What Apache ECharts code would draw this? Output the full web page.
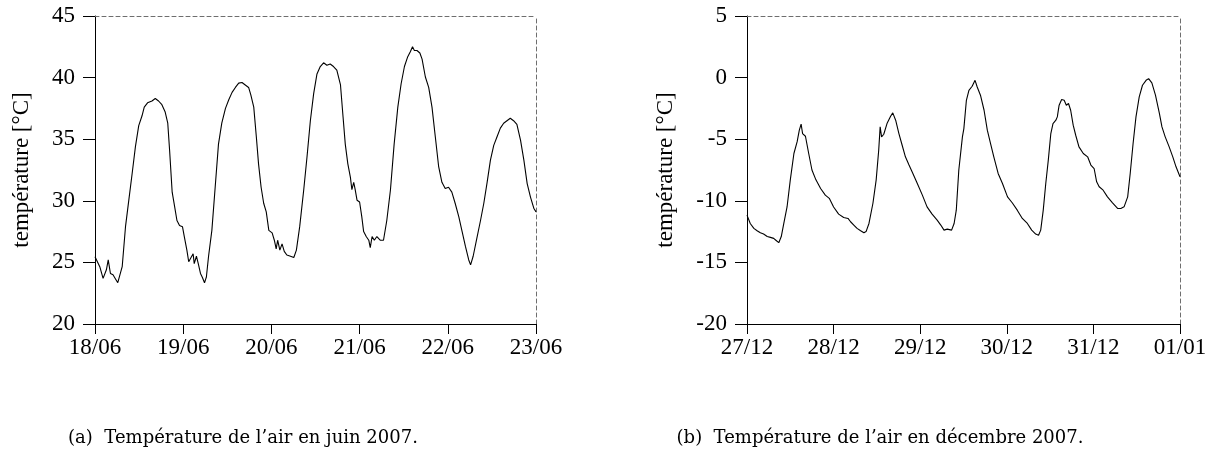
<!DOCTYPE html>
<html>
<head>
<meta charset="utf-8">
<script src="https://cdn.jsdelivr.net/npm/echarts@6/dist/echarts.min.js"></script>
<style>
html,body{margin:0;padding:0;background:#fff;}
#c{width:1212px;height:454px;}
</style>
</head>
<body>
<div id="c"></div>
<script>
// hours since start of window (18/06 00:00)
var juneHours = [0,0.5,1.3,2.2,2.5,3.1,3.6,4.2,4.9,5.5,6.2,6.7,7.4,8.3,9.2,10.1,11.0,11.9,12.8,13.4,14.3,15.5,16.4,17.3,18.2,19.1,19.8,20.3,21.0,21.6,22.3,23.0,23.8,24.3,25.0,25.5,25.9,26.7,27.0,27.6,28.1,28.7,29.2,29.8,30.3,30.9,31.8,32.7,33.6,34.5,35.5,36.4,37.3,38.2,39.1,40.0,40.9,41.8,42.4,43.2,43.9,44.5,45.2,45.9,46.6,47.3,48.2,48.8,49.3,49.7,50.3,50.9,51.5,52.2,53.2,54.1,54.8,55.7,56.8,57.7,58.6,59.5,60.4,61.3,62.2,63.1,64.0,64.9,65.8,66.8,67.5,68.1,68.8,69.5,69.9,70.4,70.8,71.3,72.0,72.6,73.1,73.8,74.5,74.9,75.4,76.0,76.7,77.6,78.5,79.4,80.4,81.4,82.4,83.3,84.2,85.1,85.8,86.4,86.9,87.6,88.4,89.0,89.9,90.8,91.7,92.6,93.5,94.4,95.3,96.2,97.1,98.0,99.0,99.9,100.8,101.7,102.2,102.9,103.8,104.9,105.8,106.7,107.6,108.5,109.4,110.3,111.2,112.1,113.0,113.9,114.8,115.8,116.7,117.6,118.5,119.4,120.0];
var juneTemps = [25.46,25.6,24.65,23.7,23.6,24.4,25.2,24.1,24.0,23.7,23.35,23.5,24.65,27.9,30.05,32.2,34.4,36.1,36.9,37.6,37.95,38.1,38.3,38.1,37.8,37.2,36.3,34.1,30.7,29.65,28.4,28.0,27.9,27.1,26.0,25.05,25.05,25.7,24.9,25.5,24.9,24.1,23.8,23.35,23.8,25.5,27.6,31.1,34.6,36.3,37.5,38.2,38.8,39.2,39.55,39.6,39.4,39.2,38.6,37.6,35.2,33.0,31.1,29.8,29.1,27.6,27.4,26.8,26.1,26.8,26.0,26.5,25.9,25.6,25.5,25.4,26.0,27.9,30.9,33.6,36.5,38.7,40.3,40.9,41.2,41.0,41.1,40.9,40.6,39.4,36.8,34.6,33.0,31.9,30.9,31.5,30.9,30.05,29.9,28.7,27.5,27.1,26.8,26.2,27.1,26.8,27.1,26.8,26.8,28.4,30.9,34.6,37.6,39.5,40.9,41.7,42.1,42.5,42.2,42.2,42.0,41.5,40.05,39.2,37.6,35.2,32.8,31.5,31.0,31.1,30.7,29.8,28.7,27.5,26.3,25.2,24.8,25.5,26.8,28.4,29.8,31.5,33.3,34.5,35.2,35.9,36.3,36.5,36.7,36.5,36.2,34.9,33.3,31.4,30.3,29.4,29.1];

// hours since start of window (27/12 00:00)
var decHours = [0,0.9,1.9,2.8,3.7,4.6,5.6,6.5,7.4,8.0,8.8,9.5,10.2,11.1,12.0,13.0,13.9,14.5,15.0,15.4,16.2,17.1,18.0,19.1,20.4,21.7,22.8,24.0,25.4,26.8,28.0,28.7,29.6,30.5,31.5,32.4,33.0,33.8,34.9,35.8,36.5,36.9,37.3,37.9,38.8,39.8,40.4,41.2,42.1,43.0,43.9,44.9,46.0,47.2,48.6,49.9,51.3,52.7,53.7,54.6,55.5,56.7,57.4,58.0,58.7,59.7,60.1,60.6,60.8,61.5,62.4,63.2,63.8,64.7,65.7,66.6,67.5,68.4,69.6,70.8,72.2,73.5,74.9,76.3,77.7,78.9,80.0,80.8,81.4,82.1,82.8,83.5,84.2,84.8,85.6,86.0,86.5,87.2,87.9,88.5,89.1,89.7,90.4,91.1,92.0,93.2,94.4,95.3,96.2,96.9,97.6,98.7,99.9,101.3,102.7,103.6,104.5,105.5,106.2,107.0,107.8,108.7,109.6,110.6,111.3,112.2,113.2,114.3,115.0,115.9,117.0,118.0,118.9,120.0];
var decTemps = [-11.16,-11.84,-12.24,-12.43,-12.6,-12.7,-12.9,-12.97,-13.05,-13.2,-13.4,-12.9,-11.84,-10.5,-8.3,-6.16,-5.2,-4.27,-3.78,-4.54,-4.76,-6.16,-7.5,-8.3,-9.0,-9.54,-9.8,-10.5,-11.08,-11.35,-11.43,-11.7,-11.97,-12.24,-12.43,-12.6,-12.5,-11.84,-10.2,-8.3,-5.9,-4.0,-4.81,-4.6,-3.73,-3.14,-2.86,-3.46,-4.54,-5.49,-6.43,-7.1,-7.8,-8.6,-9.54,-10.49,-11.08,-11.57,-11.97,-12.38,-12.3,-12.38,-11.84,-10.76,-7.5,-4.81,-4.14,-4.0,-1.84,-1.03,-0.7,-0.22,-0.76,-1.43,-2.65,-4.27,-5.35,-6.43,-7.78,-8.6,-9.68,-10.16,-10.76,-11.43,-11.84,-12.38,-12.7,-12.8,-12.38,-10.76,-8.6,-6.7,-4.54,-3.73,-3.46,-3.19,-2.24,-1.78,-1.84,-2.24,-2.1,-2.65,-3.86,-4.68,-5.62,-6.16,-6.43,-7.1,-7.38,-8.46,-8.86,-9.14,-9.68,-10.16,-10.62,-10.62,-10.49,-9.68,-7.78,-5.35,-3.19,-1.57,-0.62,-0.22,-0.08,-0.43,-1.43,-2.92,-4.0,-4.81,-5.62,-6.43,-7.24,-8.05];

var juneTickLabels = ['18/06','19/06','20/06','21/06','22/06','23/06'];
var decTickLabels = ['27/12','28/12','29/12','30/12','31/12','01/01'];
var yName = 'température [°C]';
var captionA = '(a)  Température de l\u2019air en juin 2007.';
var captionB = '(b)  Température de l\u2019air en décembre 2007.';

function pairs(xs, ys){ var out=[]; for(var i=0;i<xs.length;i++) out.push([xs[i], ys[i]]); return out; }

var FONT = 'Liberation Serif';
var FS = 23;
var black = '#000';
var dashGray = '#6e6e6e';

function mainX(gridIndex, labels){
  return {
    type:'value', gridIndex:gridIndex, min:0, max:120, interval:24, position:'bottom',
    axisLine:{show:true, onZero:false, lineStyle:{color:black, width:1}},
    axisTick:{show:true, inside:false, length:10, lineStyle:{color:black, width:1}},
    axisLabel:{show:true, margin:12, color:black, fontFamily:FONT, fontSize:FS,
      formatter:function(v){ return labels[Math.round(v/24)]; }},
    splitLine:{show:false}
  };
}
function topX(gridIndex){
  return {
    type:'value', gridIndex:gridIndex, min:0, max:120, position:'top',
    axisLine:{show:true, onZero:false, lineStyle:{color:dashGray, width:1, type:[4,3]}},
    axisTick:{show:false}, axisLabel:{show:false}, splitLine:{show:false}
  };
}
function mainY(gridIndex, min, max, gap){
  return {
    type:'value', gridIndex:gridIndex, min:min, max:max, interval:5, position:'left',
    name:yName, nameLocation:'middle', nameGap:gap, nameRotate:90,
    nameTextStyle:{color:black, fontFamily:FONT, fontSize:FS},
    axisLine:{show:true, onZero:false, lineStyle:{color:black, width:1}},
    axisTick:{show:true, inside:false, length:12, lineStyle:{color:black, width:1}},
    axisLabel:{show:true, margin:20, color:black, fontFamily:FONT, fontSize:FS},
    splitLine:{show:false}
  };
}
function rightY(gridIndex, min, max){
  return {
    type:'value', gridIndex:gridIndex, min:min, max:max, position:'right',
    axisLine:{show:true, onZero:false, lineStyle:{color:dashGray, width:1, type:[4,3]}},
    axisTick:{show:false}, axisLabel:{show:false}, splitLine:{show:false}
  };
}

var chart = echarts.init(document.getElementById('c'), null, {renderer:'canvas'});
chart.setOption({
  animation:false,
  backgroundColor:'#fff',
  grid:[
    {left:95, right:676, top:16, bottom:130, containLabel:false},
    {left:747, right:32, top:16, bottom:130, containLabel:false}
  ],
  xAxis:[ mainX(0, juneTickLabels), topX(0), mainX(1, decTickLabels), topX(1) ],
  yAxis:[ mainY(0, 20, 45, 62), rightY(0, 20, 45), mainY(1, -20, 5, 70), rightY(1, -20, 5) ],
  series:[
    {type:'line', xAxisIndex:0, yAxisIndex:0, data:pairs(juneHours, juneTemps), showSymbol:false, symbol:'none',
      lineStyle:{color:black, width:1.1}, z:5},
    {type:'line', xAxisIndex:2, yAxisIndex:2, data:pairs(decHours, decTemps), showSymbol:false, symbol:'none',
      lineStyle:{color:black, width:1.1}, z:5}
  ],
  graphic:[
    {type:'text', x:243, y:438, style:{text:captionA, x:0, y:0, align:'center', verticalAlign:'middle',
      font:'18px "DejaVu Serif"', fill:black}},
    {type:'text', x:880, y:438, style:{text:captionB, x:0, y:0, align:'center', verticalAlign:'middle',
      font:'18px "DejaVu Serif"', fill:black}}
  ]
});
</script>
</body>
</html>
